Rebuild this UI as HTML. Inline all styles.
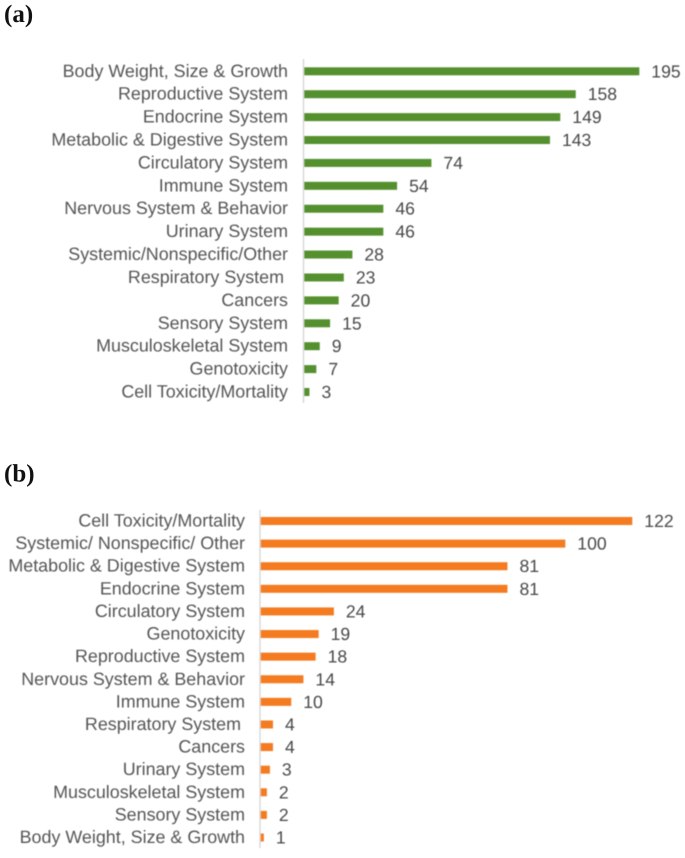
<!DOCTYPE html>
<html>
<head>
<meta charset="utf-8">
<style>
html,body{margin:0;padding:0;background:#fff;width:685px;height:858px;overflow:hidden}
svg{display:block}
#charts{filter:blur(0.5px)}
#panels{filter:blur(0.35px)}
text{font-family:"Liberation Sans",Arial,sans-serif;text-rendering:geometricPrecision}
.panel{font-weight:bold;font-size:25px;fill:#111}
</style>
</head>
<body>
<svg id="root" width="685" height="858" viewBox="0 0 685 858" xmlns="http://www.w3.org/2000/svg">
  <g id="charts">
    <g id="chart-a"></g>
    <g id="chart-b"></g>
  </g>
  <g id="panels">
    <text class="panel" x="4" y="22" style="font-family:'Liberation Serif',serif">(a)</text>
    <text class="panel" x="4" y="481.5" style="font-family:'Liberation Serif',serif">(b)</text>
  </g>
</svg>
<script>
const categoriesA = ["Body Weight, Size & Growth","Reproductive System","Endocrine System","Metabolic & Digestive System","Circulatory System","Immune System","Nervous System & Behavior","Urinary System","Systemic/Nonspecific/Other","Respiratory System ","Cancers","Sensory System","Musculoskeletal System","Genotoxicity","Cell Toxicity/Mortality"];
const valuesA = [195,158,149,143,74,54,46,46,28,23,20,15,9,7,3];
const categoriesB = ["Cell Toxicity/Mortality","Systemic/ Nonspecific/ Other","Metabolic & Digestive System","Endocrine System","Circulatory System","Genotoxicity","Reproductive System","Nervous System & Behavior","Immune System","Respiratory System ","Cancers","Urinary System","Musculoskeletal System","Sensory System","Body Weight, Size & Growth"];
const valuesB = [122,100,81,81,24,19,18,14,10,4,4,3,2,2,1];

const NS = "http://www.w3.org/2000/svg";

function drawChart(groupId, categories, values, opt) {
  const g = document.getElementById(groupId);
  const xScale = v => opt.x0 + v * opt.unit;
  const yScale = i => opt.yFirst + i * (opt.yLast - opt.yFirst) / (categories.length - 1);

  const axis = document.createElementNS(NS, "line");
  axis.setAttribute("x1", opt.x0 - 0.8);
  axis.setAttribute("x2", opt.x0 - 0.8);
  axis.setAttribute("y1", opt.axisTop);
  axis.setAttribute("y2", opt.axisBottom);
  axis.setAttribute("stroke", "#d4d4d4");
  axis.setAttribute("stroke-width", "1.3");
  
  
  g.appendChild(axis);

  categories.forEach((cat, i) => {
    const y = yScale(i);

    const label = document.createElementNS(NS, "text");
    label.setAttribute("x", cat.endsWith(" ") ? opt.labelRight - 4 : opt.labelRight);
    label.setAttribute("y", y + 5.5);
    label.setAttribute("text-anchor", "end");
    label.setAttribute("font-size", "17.9");
    label.setAttribute("fill", "#555555");
    label.textContent = cat.trim();
    
    
    g.appendChild(label);

    const bar = document.createElementNS(NS, "rect");
    bar.setAttribute("x", opt.x0);
    bar.setAttribute("y", y - 4);
    bar.setAttribute("width", Math.max(0, xScale(values[i]) - opt.x0));
    bar.setAttribute("height", 8);
    bar.setAttribute("fill", opt.color);
    
    
    g.appendChild(bar);

    const val = document.createElementNS(NS, "text");
    val.setAttribute("x", xScale(values[i]) + 12);
    val.setAttribute("y", y + 6);
    val.setAttribute("font-size", "17.6");
    val.setAttribute("fill", "#484848");
    val.textContent = values[i];
    
    
    g.appendChild(val);
  });
}

drawChart("chart-a", categoriesA, valuesA, {x0:304.3, unit:1.718, yFirst:71.3, yLast:392, axisTop:59, axisBottom:403, labelRight:288, color:"#55902f"});
drawChart("chart-b", categoriesB, valuesB, {x0:260.8, unit:3.045, yFirst:521, yLast:837.5, axisTop:510, axisBottom:848, labelRight:245, color:"#f47b20"});
</script>
</body>
</html>
